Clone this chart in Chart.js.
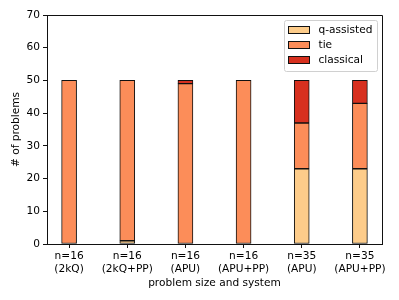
<!DOCTYPE html>
<html>
<head>
<meta charset="utf-8">
<script src="https://cdn.jsdelivr.net/npm/chart.js@4"></script>
<style>
  html, body { margin: 0; padding: 0; background: #fff; }
  #wrap { width: 399px; height: 300px; }
</style>
</head>
<body>
<div id="wrap"><canvas id="c" width="399" height="300"></canvas></div>
<script>
// stacked outcome counts per problem size / system
const categories = [
    ['n=16', '(2kQ)'],
    ['n=16', '(2kQ+PP)'],
    ['n=16', '(APU)'],
    ['n=16', '(APU+PP)'],
    ['n=35', '(APU)'],
    ['n=35', '(APU+PP)']
]
const qAssisted = [0, 1, 0, 0, 23, 23]
const tie = [50, 49, 49, 50, 14, 20]
const classical = [0, 0, 1, 0, 13, 7]
const yTicks = [0, 10, 20, 30, 40, 50, 60, 70]

const FONT = {family: 'DejaVu Sans', size: 10.6}
const toPoints = vals => vals.map((v, i) => ({x: i, y: v}))

function bars(label, vals, color) {
    return {
        label,
        data: toPoints(vals),
        backgroundColor: color,
        borderColor: '#111',
        borderWidth: 1,
        borderSkipped: false,
        barThickness: 15
    }
}

//top/right spines + matplotlib-like legend box in the upper right
const framePlugin = {
    id: 'frame',
    afterDraw(chart) {
        const {ctx, chartArea: a} = chart
        ctx.save()
        ctx.strokeStyle = '#111'
        ctx.lineWidth = 1
        ctx.beginPath()
        ctx.moveTo(a.left, a.top + 0.5)
        ctx.lineTo(a.right + 0.5, a.top + 0.5)
        ctx.lineTo(a.right + 0.5, a.bottom)
        ctx.stroke()

        const bx = a.right - 97.5, by = a.top + 5.5, bw = 93, bh = 51
        ctx.beginPath()
        ctx.roundRect(bx, by, bw, bh, 2)
        ctx.fillStyle = 'rgba(255,255,255,0.8)'
        ctx.fill()
        ctx.strokeStyle = '#d0d0d0'
        ctx.stroke()

        ctx.font = '10.6px "DejaVu Sans"'
        ctx.textBaseline = 'middle'
        chart.data.datasets.forEach((ds, i) => {
            const cy = by + 9.5 + i * 15
            ctx.fillStyle = ds.backgroundColor
            ctx.fillRect(bx + 4, cy - 3.5, 21, 7)
            ctx.strokeStyle = '#111'
            ctx.strokeRect(bx + 4, cy - 3.5, 21, 7)
            ctx.fillStyle = '#000'
            ctx.fillText(ds.label, bx + 34, cy)
        })
        ctx.restore()
    }
}

new Chart(document.getElementById('c'), {
    type: 'bar',
    data: {
        datasets: [
            bars('q-assisted', qAssisted, '#fdcc8a'),
            bars('tie', tie, '#fc8d59'),
            bars('classical', classical, '#d7301f')
        ]
    },
    options: {
        responsive: false,
        animation: false,
        devicePixelRatio: 1,
        layout: {padding: {top: 15, right: 17, left: 0, bottom: 0}},
        plugins: {legend: {display: false}, tooltip: {enabled: false}},
        scales: {
            x: {
                type: 'linear',
                stacked: true,
                offset: false,
                min: -0.38,
                max: 5.38,
                afterBuildTicks: s => { s.ticks = categories.map((_, i) => ({value: i})) },
                afterFit: s => { s.height = 56 },
                ticks: {
                    callback: v => categories[v],
                    font: FONT,
                    color: '#000',
                    padding: 2,
                    maxRotation: 0,
                    autoSkip: false
                },
                grid: {drawOnChartArea: false, offset: false, color: '#111', tickLength: 4},
                border: {color: '#111', width: 1},
                title: {display: true, text: 'problem size and system', font: FONT, color: '#000', padding: {top: 0, bottom: 10}}
            },
            y: {
                stacked: true,
                min: 0,
                max: 70,
                afterBuildTicks: s => { s.ticks = yTicks.map(v => ({value: v})) },
                afterFit: s => { s.width = 47 },
                ticks: {font: FONT, color: '#000', padding: 3},
                grid: {drawOnChartArea: false, color: '#111', tickLength: 4},
                border: {color: '#111', width: 1},
                title: {display: true, text: '# of problems', font: FONT, color: '#000', padding: {top: 10, bottom: 0}}
            }
        }
    },
    plugins: [framePlugin]
})
</script>
</body>
</html>
